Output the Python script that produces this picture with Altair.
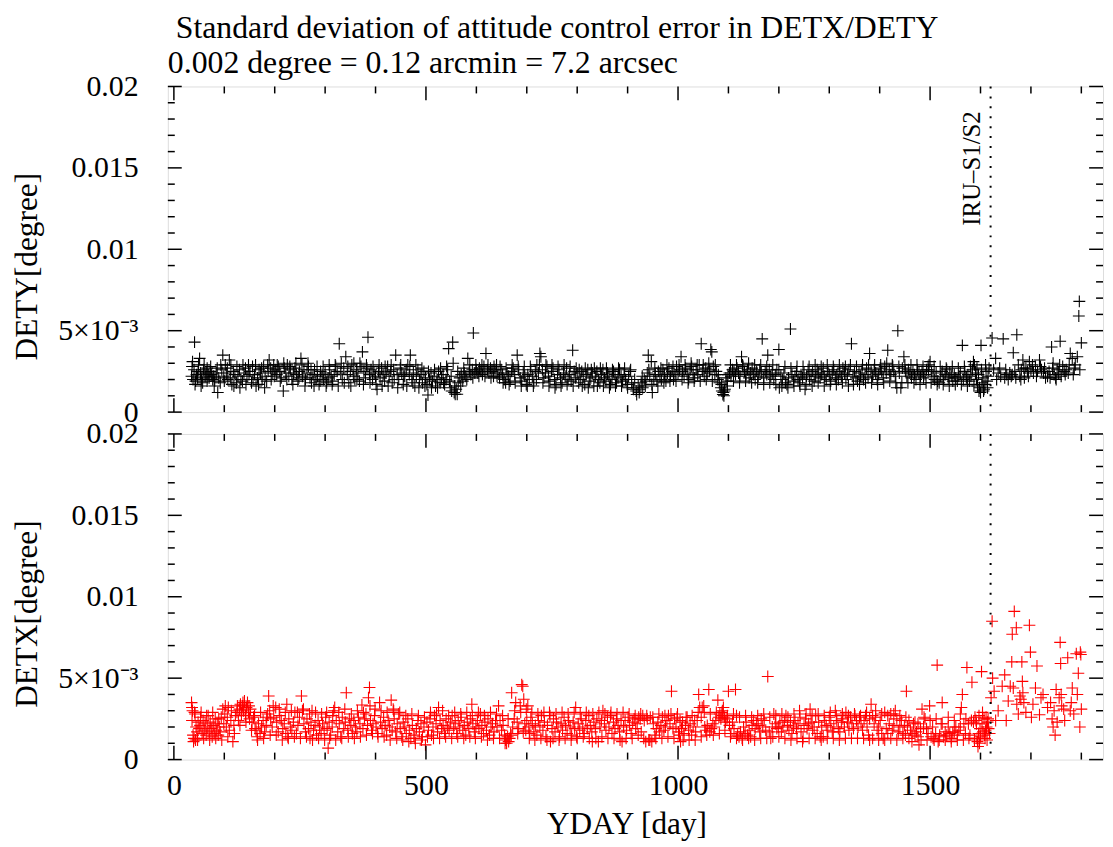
import altair as alt
import pandas as pd

# ---------------- data (values of the series in units of 1e-3 degree) ----------------
DETY_POINTS = [
    (35,2.2),(37,3.1),(38,2.0),(40,2.6),(41,4.3),(43,1.9),(45,2.3),(47,2.1),(49,2.9),(51,3.3),(53,2.4),(55,2.0),(57,1.8),(59,2.6),(62,2.2),(64,2.4),(66,2.7),(68,2.3),(70,2.1),(72,2.5),(75,2.3),(77,2.0),(79,2.2),(81,1.9),(84,2.4),(87,1.2),(89,2.1),(92,1.8),(95,2.6),(97,3.5),(99,2.2),
    (102,2.9),(104,2.4),(107,2.0),(110,3.2),(112,2.1),(115,1.7),(118,2.5),(121,2.3),(124,1.8),(127,2.2),(130,2.6),(133,2.0),(136,1.9),(139,2.4),(142,2.7),(145,2.2),(148,2.9),(151,2.5),(154,1.8),(157,2.0),(160,2.3),(163,1.6),(166,2.1),(169,2.6),(172,2.4),(175,2.0),(178,2.8),(181,2.2),(184,1.9),(187,2.5),(189,3.2),(192,2.7),(195,2.4),(198,2.9),
    (201,2.6),(204,2.3),(207,2.8),(210,2.5),(213,2.1),(217,1.3),(219,2.7),(222,2.4),(225,2.9),(228,2.2),(231,2.6),(234,2.0),(237,2.4),(240,2.7),(243,2.3),(246,1.9),(249,2.5),(252,3.3),(255,2.2),(258,2.6),(261,2.0),(264,2.4),(267,2.8),(270,2.1),(273,1.8),(276,2.3),(279,2.6),(282,2.0),(285,2.2),(288,1.7),(291,2.5),(294,2.3),(297,2.0),
    (300,2.4),(303,1.8),(306,2.1),(309,2.6),(312,2.2),(315,1.9),(318,2.3),(321,2.8),(324,2.5),(328,4.2),(331,2.4),(334,2.0),(337,2.7),(341,3.4),(344,2.3),(347,1.8),(350,2.5),(353,2.9),(356,2.2),(359,2.0),(362,2.6),(365,2.4),(368,1.9),(371,2.8),(374,3.7),(377,2.5),(380,2.1),(383,2.7),(385,4.6),(388,2.3),(391,2.6),(394,2.0),(397,2.4),
    (400,2.2),(403,1.4),(406,2.5),(409,2.1),(412,2.7),(415,2.3),(418,1.9),(421,2.4),(424,2.8),(427,2.2),(430,2.5),(433,1.8),(436,2.6),(440,3.5),(443,2.3),(446,2.0),(449,2.7),(452,2.4),(455,1.7),(458,2.2),(461,2.6),(464,2.9),(467,2.3),(469,3.5),(472,2.0),(475,2.4),(478,1.6),(481,2.2),(484,2.6),(487,2.0),(490,2.3),(493,1.8),(496,2.5),(499,2.1),
    (502,1.7),(504,1.05),(507,2.0),(510,2.4),(513,1.9),(516,2.2),(519,1.6),(522,2.0),(525,2.5),(528,1.8),(531,2.1),(534,2.3),(537,1.7),(540,2.0),(543,2.6),(545,3.9),(548,1.5),(550,2.2),(553,4.3),(554,3.0),(556,1.2),(558,1.1),(560,1.4),(562,1.1),(564,1.8),(567,2.1),(570,2.3),(573,1.9),(576,2.4),(579,2.2),(583,3.3),(586,2.5),(589,2.3),(592,2.6),(594,4.86),(597,2.4),
    (600,2.6),(603,2.4),(606,2.7),(609,2.5),(612,2.3),(615,2.8),(619,3.6),(622,2.6),(625,2.4),(628,2.7),(631,2.5),(634,2.2),(637,2.6),(640,2.9),(643,2.4),(646,2.1),(649,2.6),(652,2.3),(655,2.0),(658,1.8),(661,2.4),(664,2.2),(667,1.9),(670,2.5),(673,2.7),(676,2.3),(681,3.5),(684,2.6),(687,2.1),(690,1.9),(693,2.4),(696,2.2),(699,1.7),
    (702,2.3),(705,2.0),(708,2.6),(711,2.2),(714,1.8),(717,2.5),(720,2.9),(723,2.4),(726,3.6),(728,3.4),(731,2.6),(734,2.1),(737,2.4),(740,2.8),(743,2.2),(746,1.9),(749,2.5),(752,2.7),(755,2.0),(758,1.7),(761,2.3),(764,2.6),(767,2.1),(770,1.8),(773,2.4),(776,2.2),(779,2.7),(782,2.0),(785,2.3),(788,1.9),(791,3.8),(794,2.5),(797,2.1),
    (800,2.4),(803,1.8),(806,2.0),(809,2.5),(812,2.2),(815,1.7),(818,2.3),(821,2.6),(824,1.9),(827,2.1),(830,2.4),(833,1.6),(836,2.2),(839,2.5),(842,2.0),(845,1.8),(848,2.3),(851,2.6),(854,2.1),(857,1.9),(860,2.4),(863,2.2),(866,1.7),(869,2.0),(872,2.5),(875,2.3),(878,1.8),(881,2.1),(884,2.6),(887,2.2),(890,1.9),(893,2.3),(896,2.0),(899,1.7),(902,2.2),(905,2.5),(908,1.8),(911,1.5),(914,2.0),(918,1.08),
    (921,1.6),(924,1.4),(927,1.8),(930,1.5),(933,2.0),(936,1.9),(939,2.4),(941,3.5),(944,2.2),(947,3.1),(949,1.2),(952,2.0),(955,2.3),(958,1.9),(961,2.5),(964,2.2),(967,2.0),(970,2.6),(973,2.3),(976,1.9),(979,2.4),(982,2.7),(985,2.2),(988,2.5),(991,2.0),(994,2.3),(997,2.8),
    (1000,2.4),(1003,2.6),(1006,3.4),(1009,2.5),(1012,2.2),(1015,2.7),(1018,2.3),(1021,2.0),(1024,2.6),(1027,2.8),(1030,2.4),(1033,2.1),(1036,2.6),(1039,2.3),(1042,2.9),(1046,4.2),(1049,2.5),(1052,2.2),(1055,2.7),(1058,2.4),(1061,3.0),(1063,2.6),(1065,3.84),(1067,3.7),(1070,2.8),(1073,2.3),(1076,2.5),(1079,2.0),(1082,1.8),(1085,1.5),(1087,1.3),(1089,1.08),(1090,1.2),(1091,1.0),(1093,1.4),(1095,2.1),(1097,1.9),(1099,2.3),
    (1102,2.4),(1105,2.2),(1108,2.6),(1111,2.5),(1114,2.3),(1117,2.7),(1120,2.4),(1123,2.2),(1126,3.4),(1129,2.8),(1132,2.5),(1135,2.3),(1138,2.6),(1141,2.1),(1144,2.4),(1147,2.7),(1150,2.3),(1153,2.0),(1156,2.5),(1159,2.2),(1162,2.6),(1165,2.4),(1167,4.5),(1170,2.1),(1173,2.5),(1176,2.3),(1178,3.5),(1181,2.6),(1184,2.2),(1187,2.4),(1190,2.0),(1193,2.3),(1196,2.6),(1200,3.84),(1201,1.5),(1204,2.2),(1207,2.0),(1210,2.4),(1213,1.8),(1216,1.7),(1219,2.1),(1223,5.1),(1226,2.3),(1229,1.9),(1232,2.2),(1235,2.5),(1238,2.0),(1241,1.8),(1244,2.3),(1247,2.1),(1250,2.4),
    (1252,1.4),(1255,2.2),(1258,2.6),(1261,2.0),(1264,2.3),(1267,2.5),(1270,1.9),(1273,2.2),(1276,2.6),(1279,2.4),(1282,2.1),(1285,2.3),(1288,2.7),(1291,2.2),(1294,2.0),(1297,2.5),(1300,2.3),(1303,1.9),(1306,2.4),(1309,2.6),(1312,2.1),(1315,2.3),(1318,2.0),(1321,2.5),(1324,2.2),(1327,2.7),(1330,2.4),(1333,2.0),(1336,2.3),(1339,2.6),(1344,4.2),(1347,2.2),(1350,2.5),(1353,2.1),(1356,1.9),(1359,2.4),(1362,2.2),(1365,2.6),(1368,2.0),(1371,2.3),(1374,2.7),(1377,2.1),(1380,3.6),(1383,2.5),(1386,2.2),(1389,2.6),(1392,2.4),(1395,2.0),(1398,2.3),(1401,2.7),(1404,2.5),(1407,2.1),(1410,2.8),(1413,2.4),(1416,3.8),(1419,2.6),(1422,2.3),(1425,2.9),(1428,2.5),(1431,2.2),(1434,1.5),(1436,5.0),(1439,2.4),(1442,1.5),(1445,2.7),(1448,3.4),(1451,2.5),
    (1454,2.2),(1457,2.6),(1460,2.4),(1463,2.1),(1466,2.5),(1469,2.3),(1472,2.0),(1475,2.6),(1478,2.4),(1481,2.2),(1484,2.5),(1487,2.1),(1490,2.3),(1493,2.6),(1496,2.8),(1498,2.9),(1500,3.1),(1503,2.5),(1506,2.2),(1509,2.0),(1512,2.4),(1515,1.9),(1518,1.8),(1521,2.2),(1524,2.5),(1527,2.0),(1530,2.3),(1533,2.6),(1536,2.1),(1539,2.4),(1542,2.2),(1545,1.9),(1548,2.3),(1551,2.1),(1554,1.9),(1557,2.2),(1560,2.4),(1564,4.1),(1566,2.0),(1569,2.5),(1572,2.1),(1575,2.3),(1578,1.9),(1581,2.2),(1584,2.6),(1586,3.1),(1588,2.9),(1590,2.4),(1592,2.0),(1594,1.6),(1596,2.3),(1598,1.5),(1600,1.2),(1601,4.1),(1603,1.8),(1605,2.1),(1607,1.4),(1609,1.7),(1611,2.5),(1613,1.9),(1615,2.2),
    (1623,4.55),(1626,2.6),(1630,3.3),(1635,2.4),(1640,2.2),(1645,4.5),(1648,2.1),(1652,2.3),(1655,2.0),(1658,2.4),(1661,2.2),(1665,3.65),(1668,2.5),(1672,4.75),(1675,2.9),(1678,2.2),(1681,2.6),(1684,3.2),(1687,2.1),(1690,2.7),(1693,2.5),(1697,3.1),(1700,2.6),(1705,2.4),(1709,2.8),(1713,2.5),(1717,3.2),(1721,2.6),(1725,2.4),(1729,2.1),(1733,2.2),(1736,2.5),(1741,4.0),(1743,2.7),(1746,2.3),(1749,2.1),(1752,2.6),(1755,2.4),(1758,4.35),(1760,2.2),(1763,2.8),(1766,2.5),(1770,2.6),(1774,2.4),(1778,3.6),(1782,3.3),(1784,2.3),(1788,2.9),(1792,3.4),(1795,5.9),(1796,6.8),(1797,2.6),(1800,4.25),
]

DETY_EXTRA = [
    (36,2.8),(42,1.7),(48,2.5),(54,1.6),(60,2.9),(66,1.9),(73,2.8),(80,1.6),(86,2.7),(93,2.9),(100,1.9),(106,2.7),(113,2.9),(119,1.6),(125,2.8),(131,1.5),(137,2.9),(143,1.7),(149,2.3),(156,2.8),(162,2.9),(168,1.7),(174,2.7),(180,1.5),(186,2.9),(193,2.0),(199,2.2),
    (205,2.9),(211,1.9),(218,3.0),(224,2.0),(230,2.8),(236,1.7),(242,3.0),(248,2.1),(254,2.9),(260,1.6),(266,3.0),(272,2.6),(278,1.6),(284,2.8),(290,1.9),(296,2.8),(302,1.6),(308,2.9),(314,1.7),(320,2.9),(326,1.6),(332,3.0),(338,1.8),(345,2.8),(351,1.6),(357,3.0),(363,2.0),(369,3.0),(376,1.7),(382,2.9),(389,1.8),(395,2.8),
    (401,1.7),(407,2.9),(413,1.6),(419,2.8),(425,1.6),(431,2.9),(437,2.0),(444,1.5),(450,2.9),(456,2.2),(462,1.6),(468,2.8),(474,1.8),(480,2.9),(486,1.5),(492,2.7),(498,1.6),(505,2.5),(511,1.5),(517,2.6),(523,1.5),(529,2.7),(535,1.8),(541,2.8),(547,1.9),(551,1.3),(557,1.6),(563,2.5),(569,1.6),(575,2.7),(581,2.0),(587,2.9),(593,2.1),(599,2.9),
    (605,2.2),(611,2.9),(617,2.2),(623,2.9),(629,2.1),(635,2.8),(641,2.2),(647,2.8),(653,1.8),(659,2.7),(665,1.7),(671,2.9),(677,1.8),(683,2.8),(689,1.6),(695,2.8),(701,1.6),(707,2.8),(713,1.6),(719,2.0),(725,2.9),(732,1.8),(738,2.9),(744,1.6),(750,2.9),(756,1.5),(762,2.8),(768,1.6),(774,2.9),(780,1.7),(786,2.8),(792,1.6),(798,2.7),
    (804,2.6),(810,1.6),(816,2.7),(822,1.5),(828,2.6),(834,2.7),(840,1.6),(846,2.7),(852,1.6),(858,2.7),(864,1.5),(870,2.6),(876,1.6),(882,2.7),(888,1.6),(894,2.7),(900,1.5),(906,2.6),(912,1.4),(917,1.3),(923,1.2),(929,2.2),(935,1.6),(942,2.6),(948,1.7),(954,2.7),(960,1.6),(966,2.7),(972,1.8),(978,2.9),(984,1.9),(990,2.8),(996,1.9),
    (1002,2.9),(1008,2.0),(1014,2.9),(1020,1.8),(1026,3.0),(1032,1.9),(1038,2.9),(1044,1.9),(1050,2.9),(1056,2.0),(1062,2.5),(1068,1.9),(1074,2.9),(1080,2.3),(1086,1.7),(1092,1.3),(1098,1.6),(1104,2.9),(1110,1.9),(1116,2.9),(1122,1.8),(1128,2.9),(1134,1.9),(1140,3.0),(1146,1.8),(1152,2.9),(1158,1.8),(1164,2.9),(1170,1.7),(1176,2.8),(1182,1.8),(1188,2.9),(1194,1.7),
    (1200,2.6),(1206,1.6),(1212,2.8),(1218,1.5),(1224,2.7),(1230,1.6),(1236,2.8),(1242,1.6),(1248,2.8),(1254,1.7),(1260,2.8),(1266,1.6),(1272,2.9),(1278,1.8),(1284,2.8),(1290,1.6),(1296,2.9),(1302,1.7),(1308,2.8),(1314,1.7),(1320,2.9),(1326,1.8),(1332,2.8),(1338,1.6),(1342,2.9),(1348,1.7),(1354,2.8),(1360,1.7),(1366,2.9),(1372,1.8),(1378,2.9),(1384,1.8),(1390,2.9),(1396,1.7),
    (1402,2.9),(1408,1.8),(1414,3.0),(1420,1.9),(1426,2.8),(1432,1.8),(1438,2.8),(1444,1.8),(1450,2.9),(1456,1.8),(1462,2.9),(1468,1.8),(1474,2.9),(1480,1.7),(1486,2.8),(1492,1.8),(1497,2.6),(1502,1.8),(1508,2.8),(1514,1.7),(1520,2.8),(1526,1.7),(1532,2.7),(1538,1.6),(1544,2.8),(1550,1.7),(1556,2.7),(1562,1.7),(1568,2.8),(1574,1.6),(1580,2.8),(1587,1.7),(1593,2.7),(1597,1.3),(1602,2.6),(1606,1.3),(1610,2.9),(1614,1.5),(1617,2.7),
    (1632,2.0),(1638,2.7),(1650,2.6),(1663,2.3),(1670,2.1),(1680,2.0),(1686,2.7),(1695,2.2),(1703,2.9),(1711,2.2),(1719,2.8),(1727,2.7),(1738,2.1),(1744,3.0),(1750,2.0),(1757,2.9),(1768,2.3),(1776,2.9),(1786,2.7),
]

DETX_POINTS = [
    (35,3.5),(36,3.2),(37,3.0),(38,1.5),(39,1.1),(40,1.3),(41,2.9),(43,1.2),(44,2.0),(46,1.7),(48,2.3),(50,1.9),(52,2.1),(54,2.9),(56,1.6),(58,2.4),(60,1.8),(62,2.2),(64,1.5),(66,2.0),(68,2.7),(70,1.7),(72,2.3),(74,1.9),(76,1.4),(78,2.1),(80,1.6),(82,2.5),(84,1.8),(86,2.2),(88,1.5),(90,2.0),(92,1.7),(94,2.6),(97,3.1),(99,2.2),
    (102,3.3),(104,2.0),(106,2.6),(108,3.2),(110,1.8),(113,2.4),(117,1.1),(119,2.1),(122,2.7),(125,2.9),(128,2.4),(130,3.1),(132,3.4),(134,2.8),(136,3.3),(138,3.0),(140,3.6),(142,2.7),(144,3.2),(146,3.5),(148,2.9),(150,2.5),(152,3.1),(155,2.3),(158,2.6),(161,1.9),(163,1.8),(165,1.4),(168,2.2),(171,1.6),(174,2.0),(177,2.4),(180,1.7),(183,2.1),(186,2.8),(188,3.9),(190,3.0),(192,2.5),(195,2.0),(198,2.6),
    (202,3.2),(204,2.3),(207,1.7),(210,2.7),(213,2.4),(216,1.9),(219,2.2),(222,1.6),(224,3.4),(226,1.4),(228,2.5),(231,2.0),(234,1.8),(237,2.3),(240,2.9),(243,1.6),(246,2.1),(249,2.6),(253,3.9),(255,3.0),(258,2.2),(261,1.7),(264,2.5),(267,1.9),(270,1.3),(272,2.3),(274,3.0),(277,1.8),(280,2.1),(283,1.5),(286,2.4),(289,2.0),(292,1.6),(295,2.2),(298,1.8),
    (301,2.6),(304,1.9),(306,0.7),(308,2.3),(311,1.5),(314,2.0),(317,3.0),(319,3.2),(322,2.4),(325,1.7),(328,2.2),(331,1.4),(334,2.6),(337,1.9),(340,2.3),(342,4.1),(345,1.8),(348,2.5),(351,2.1),(354,1.6),(357,2.4),(360,2.0),(363,1.7),(366,2.6),(369,2.2),(373,3.35),(375,1.9),(378,2.5),(381,2.8),(384,2.1),(386,3.8),(388,4.43),(390,2.4),(392,1.8),(395,2.2),(398,2.7),
    (401,2.0),(404,1.6),(408,3.5),(410,2.3),(413,1.9),(416,2.6),(419,2.1),(422,1.5),(425,2.4),(428,2.0),(431,3.65),(433,1.8),(435,3.1),(437,2.5),(440,1.7),(443,2.2),(446,2.8),(449,1.9),(452,1.4),(455,2.3),(458,2.0),(461,1.6),(464,2.5),(467,1.8),(470,1.3),(473,2.1),(476,1.5),(479,1.0),(481,1.9),(484,2.4),(487,1.7),(490,2.2),(493,1.4),(496,2.0),(499,0.9),
    (502,2.3),(505,1.8),(508,2.5),(511,1.5),(514,2.0),(517,2.7),(520,2.2),(523,1.7),(525,3.2),(528,2.4),(531,1.9),(534,2.1),(537,1.6),(540,2.5),(543,2.0),(546,1.8),(549,2.3),(552,2.7),(555,1.9),(558,2.2),(561,1.6),(564,2.4),(567,2.0),(570,2.6),(573,1.8),(576,2.1),(579,1.5),(582,2.3),(585,1.9),(588,2.5),(591,3.4),(593,2.2),(596,1.7),(599,2.0),
    (602,2.4),(605,1.9),(608,2.8),(611,2.1),(614,1.6),(617,2.3),(620,1.8),(623,2.5),(626,1.5),(629,2.0),(632,2.2),(635,1.7),(638,2.4),(641,2.0),(644,3.3),(647,2.4),(650,1.8),(653,2.1),(656,1.5),(658,1.2),(660,1.0),(662,1.4),(664,1.1),(666,1.3),(668,1.6),(670,4.1),(672,2.0),(675,2.5),(678,3.5),(681,2.3),(684,1.9),(687,3.3),(690,4.6),(692,4.5),(694,3.7),(696,2.2),(698,1.8),
    (700,2.4),(702,3.3),(704,2.0),(706,1.6),(708,2.6),(711,2.2),(714,1.7),(717,2.1),(720,1.5),(723,2.4),(726,2.0),(729,2.7),(732,1.8),(735,2.3),(738,1.4),(741,2.1),(745,2.9),(747,1.1),(750,1.9),(753,2.5),(756,1.7),(759,2.3),(762,2.0),(765,1.4),(768,2.2),(771,1.8),(774,2.6),(777,2.1),(780,1.6),(783,2.4),(786,2.0),(789,1.5),(792,2.3),(795,1.9),(797,3.2),(799,1.4),
    (802,2.2),(805,1.8),(808,2.5),(811,2.0),(814,1.6),(817,2.4),(820,1.9),(823,2.7),(826,2.1),(829,1.7),(830,1.1),(833,2.3),(836,1.9),(839,2.5),(842,1.1),(845,2.0),(848,2.4),(851,3.0),(854,2.2),(857,1.8),(860,2.6),(863,2.0),(866,2.7),(869,1.6),(872,2.3),(875,1.9),(878,2.5),(881,2.1),(884,1.7),(887,2.4),(889,1.1),(892,2.0),(895,2.4),(898,1.8),(901,2.6),(904,2.1),(907,1.6),(910,2.3),(913,2.5),(916,1.9),(919,2.2),
    (922,2.6),(925,2.5),(927,1.7),(930,2.7),(933,2.4),(936,1.1),(939,2.5),(942,1.2),(945,2.6),(948,1.1),(951,2.2),(954,1.5),(957,1.9),(960,2.3),(963,1.7),(966,2.1),(969,2.6),(972,1.8),(975,2.0),(978,2.4),(981,2.7),(984,2.2),(987,4.2),(990,1.9),(993,2.5),(996,2.0),(999,2.8),
    (1001,1.7),(1003,1.5),(1005,1.1),(1007,1.9),(1009,2.3),(1012,1.6),(1015,2.1),(1018,2.6),(1021,1.8),(1024,2.2),(1027,1.5),(1030,2.0),(1033,2.4),(1035,1.7),(1038,2.4),(1041,4.0),(1043,3.2),(1046,2.6),(1048,3.2),(1051,3.3),(1053,2.0),(1055,1.8),(1058,2.1),(1061,4.3),(1063,1.7),(1066,1.9),(1069,2.2),(1072,2.0),(1075,2.4),(1079,3.65),(1081,2.6),(1083,2.8),(1085,2.5),(1087,2.9),(1089,2.7),(1090,3.2),(1092,2.6),(1094,2.3),(1097,2.5),(1100,4.2),
    (1102,2.1),(1105,1.6),(1108,2.3),(1111,1.9),(1114,4.3),(1116,2.7),(1118,1.5),(1121,1.4),(1124,1.7),(1127,1.3),(1130,2.0),(1133,1.6),(1135,2.3),(1138,1.5),(1141,1.8),(1144,1.4),(1147,2.1),(1150,2.4),(1153,1.9),(1156,2.2),(1159,2.1),(1162,1.7),(1165,2.5),(1168,2.0),(1171,2.4),(1174,1.8),(1178,5.1),(1181,1.7),(1184,1.3),(1187,2.0),(1190,2.8),(1193,2.2),(1196,1.9),(1199,2.0),(1202,2.3),(1205,1.7),(1208,2.0),(1211,2.4),(1214,2.7),(1217,2.1),(1220,1.8),(1223,2.3),(1226,1.6),(1229,2.0),(1232,2.4),(1235,1.9),(1238,2.2),(1241,3.0),(1244,1.7),(1247,1.1),(1250,2.1),
    (1253,2.5),(1256,1.9),(1259,2.2),(1262,3.1),(1264,2.3),(1267,1.8),(1270,2.0),(1273,2.7),(1276,1.6),(1279,2.3),(1282,1.4),(1285,2.0),(1288,1.4),(1291,2.4),(1294,2.1),(1297,1.8),(1300,2.6),(1303,2.2),(1306,1.7),(1309,2.0),(1312,3.0),(1315,2.4),(1318,1.9),(1321,1.7),(1324,2.3),(1327,2.5),(1330,2.0),(1333,2.9),(1336,2.3),(1339,1.8),(1342,2.6),(1345,2.2),(1348,1.9),(1351,2.7),(1354,2.4),(1357,2.0),(1360,2.6),(1363,2.2),(1366,1.8),(1369,2.4),(1372,2.7),(1375,2.0),(1378,1.5),(1380,1.2),(1383,3.4),(1386,2.7),(1389,2.2),(1392,3.0),(1395,1.8),(1398,2.0),(1401,2.4),(1404,1.6),(1407,1.3),(1410,2.9),(1413,1.9),(1416,1.6),(1419,2.2),(1422,2.8),(1425,1.8),(1428,2.1),(1431,3.0),(1434,2.5),(1437,1.7),(1440,2.0),(1443,2.4),(1446,1.6),(1449,2.1),(1451,1.5),(1453,4.2),
    (1455,2.0),(1458,1.3),(1461,1.8),(1464,1.6),(1467,2.2),(1470,1.5),(1473,1.7),(1476,1.4),(1478,0.9),(1481,1.9),(1484,3.1),(1487,2.0),(1490,2.5),(1493,1.9),(1496,1.6),(1499,3.3),(1502,1.4),(1505,2.0),(1508,1.2),(1511,1.6),(1514,5.8),(1516,1.1),(1519,1.5),(1522,2.2),(1524,3.5),(1527,1.4),(1530,1.7),(1533,1.5),(1536,2.0),(1539,1.6),(1542,1.3),(1545,1.65),(1548,1.7),(1551,2.0),(1554,1.5),(1557,1.8),(1560,2.8),(1562,3.2),(1564,4.0),(1567,2.2),(1570,1.6),(1573,5.65),(1576,2.2),(1579,1.5),(1583,4.75),(1586,2.3),(1589,2.6),(1591,2.4),(1593,1.3),(1594,1.1),(1595,0.8),(1596,1.6),(1597,2.7),(1599,1.9),(1600,1.4),(1602,5.4),(1603,2.2),(1605,1.7),(1607,2.5),(1609,1.3),(1610,1.8),(1612,2.0),(1614,2.3),(1616,1.9),
    (1621,3.8),(1623,8.5),(1624,5.0),(1630,2.4),(1643,4.5),(1651,2.4),(1659,4.5),(1662,6.0),(1663,7.7),(1667,9.1),(1671,8.1),(1672,3.4),(1675,2.8),(1678,3.9),(1682,6.0),(1683,4.8),(1684,4.1),(1686,3.5),(1697,8.25),(1699,6.6),(1701,2.6),(1709,4.4),(1712,5.75),(1717,2.75),(1724,4.0),(1739,3.5),(1742,2.5),(1744,2.0),(1746,3.0),(1748,1.5),(1752,2.3),(1756,3.8),(1758,7.2),(1759,5.9),(1760,4.0),(1761,3.3),(1767,2.4),(1773,6.25),(1778,3.0),(1782,4.4),(1785,2.8),(1790,6.5),(1794,5.3),(1797,2.0),(1798,6.6),(1799,6.45),(1800,3.1),
]

DETX_EXTRA = [
    (36,2.4),(42,2.8),(47,1.2),(53,2.6),(59,1.3),(65,2.7),(71,1.2),(77,2.9),(83,1.3),(89,2.5),(95,1.2),(101,2.8),(107,1.4),(114,3.0),(120,1.6),(126,3.3),(131,2.1),(137,3.5),(143,2.3),(149,3.3),(154,1.8),(160,2.7),(166,1.2),(172,2.9),(178,1.3),(184,2.6),(191,1.5),(197,3.3),
    (203,1.5),(209,3.1),(215,1.2),(221,2.9),(227,1.3),(233,3.0),(239,1.4),(245,2.9),(251,1.3),(257,3.1),(263,1.4),(269,2.8),(275,1.2),(281,2.9),(287,1.3),(293,2.8),(299,1.2),(303,2.9),(309,1.3),(315,2.7),(321,1.2),(327,2.9),(333,1.3),(339,3.1),(346,1.4),(352,2.8),(358,1.3),(364,3.0),(370,1.4),(376,2.9),(382,1.5),(389,3.3),(394,1.6),(399,3.1),
    (405,1.4),(411,3.0),(417,1.4),(423,2.9),(429,1.2),(436,3.0),(442,1.3),(448,2.9),(454,1.2),(460,2.7),(466,1.1),(472,2.8),(478,1.3),(485,2.7),(491,1.2),(497,2.6),(503,1.4),(509,2.9),(515,1.3),(521,2.8),(527,1.3),(533,3.0),(539,1.4),(545,2.7),(551,1.3),(557,2.9),(563,1.4),(569,2.8),(575,1.3),(581,2.9),(587,1.4),(592,2.7),(598,1.3),
    (604,2.9),(610,1.4),(616,2.7),(622,1.2),(628,2.9),(634,1.3),(640,2.8),(646,1.3),(652,2.7),(657,1.0),(663,2.5),(669,1.5),(676,3.0),(682,1.6),(688,2.9),(693,1.7),(699,3.1),(705,1.3),(710,2.9),(716,1.2),(722,2.8),(728,1.3),(734,2.9),(740,1.2),(746,2.7),(752,1.3),(758,2.8),(764,1.2),(770,2.9),(776,1.3),(782,2.8),(788,1.2),(794,2.9),
    (800,1.3),(806,2.8),(812,1.4),(818,2.9),(824,1.3),(831,2.8),(837,1.3),(843,2.9),(849,1.4),(855,2.8),(861,1.3),(867,2.9),(873,1.3),(879,2.8),(885,1.2),(891,2.9),(897,1.3),(903,2.8),(909,1.3),(915,2.7),(921,1.5),(926,2.8),(932,1.3),(938,2.7),(944,1.2),(950,2.6),(956,1.3),(962,2.8),(968,1.3),(974,2.7),(980,1.4),(986,2.8),(992,1.3),(998,2.6),
    (1004,2.4),(1010,1.2),(1016,2.6),(1022,1.2),(1028,2.7),(1034,1.2),(1040,2.9),(1046,1.4),(1052,2.9),(1057,1.5),(1064,2.8),(1070,1.5),(1076,2.9),(1082,1.6),(1088,3.0),(1093,1.8),(1098,2.7),(1104,1.4),(1110,2.8),(1116,1.3),(1122,2.6),(1128,1.2),(1134,2.7),(1140,1.3),(1146,2.6),(1152,1.2),(1158,2.7),(1164,1.3),(1170,2.8),(1176,1.3),(1182,2.6),(1188,1.4),(1194,2.7),
    (1200,1.4),(1206,2.8),(1212,1.3),(1218,2.6),(1224,1.2),(1230,2.8),(1236,1.3),(1242,2.6),(1248,1.3),(1254,2.8),(1260,1.3),(1266,2.7),(1272,1.3),(1278,2.8),(1284,1.2),(1290,2.7),(1296,1.3),(1302,2.9),(1308,1.3),(1314,2.7),(1320,1.2),(1326,2.8),(1332,1.3),(1338,2.7),(1344,1.3),(1350,2.8),(1356,1.3),(1362,2.7),(1368,1.3),(1374,2.9),(1380,2.5),(1386,1.3),(1392,2.6),(1398,1.2),
    (1404,2.8),(1410,1.2),(1416,2.7),(1422,1.3),(1428,2.8),(1434,1.2),(1440,2.7),(1446,1.3),(1452,2.6),(1458,2.4),(1464,1.1),(1470,2.3),(1476,2.2),(1482,1.2),(1488,2.6),(1494,1.2),(1500,2.4),(1506,1.3),(1512,2.5),(1518,1.2),(1524,2.2),(1530,1.2),(1536,2.6),(1542,1.1),(1548,2.4),(1554,1.2),(1560,2.0),(1566,1.2),(1571,2.5),(1577,1.3),(1582,2.4),(1588,1.2),(1592,2.2),(1598,1.0),
    (1604,2.9),(1608,1.5),(1611,2.6),(1613,1.2),(1615,2.5),(1618,1.6),
    (1627,4.2),(1635,3.0),(1648,5.2),(1655,3.6),(1665,4.4),(1680,3.7),(1690,2.9),(1704,3.4),(1720,3.8),(1733,3.2),(1750,4.3),(1765,3.1),(1780,3.5),(1792,4.0),
]

IRU_DAY = [1620]
IRU_TEXT = "IRU\u2013S1/S2"
X_MAJOR = [0, 500, 1000, 1500]
X_MINOR = [100, 200, 300, 400, 600, 700, 800, 900, 1100, 1200, 1300, 1400, 1600, 1700, 1800]
Y_MAJOR = [0, 0.005, 0.01, 0.015, 0.02]
Y_MINOR = [0.001, 0.002, 0.003, 0.004, 0.006, 0.007, 0.008, 0.009, 0.011, 0.012,
           0.013, 0.014, 0.016, 0.017, 0.018, 0.019]
X_DOMAIN = [-12, 1843]
Y_DOMAIN = [0, 0.02]
TITLE_1 = "\u200b\u00a0Standard deviation of attitude control error in DETX/DETY"
TITLE_2 = "0.002 degree = 0.12 arcmin = 7.2 arcsec"

# ---------------- styling ----------------
FONT = "Liberation Serif"
W, H = 942, 328
MAJ, MIN = 14, 7
PLUS = "M-1,0L1,0M0,-1L0,1"
TICK_FS = 30
TITLE_FS = 31.5

LABEL_EXPR = ("abs(datum.value - 0.005) < 1e-9 ? '5\u00d710\u207b\u00b3' : "
              "format(datum.value, '.3~f')")


def panel(points, extra, color, ytitle, show_x, label=False, title=None):
    df = pd.DataFrame(points + extra, columns=["day", "val"])
    df["val"] = df["val"] / 1000.0

    xs = alt.Scale(domain=X_DOMAIN, nice=False, zero=False)
    ys = alt.Scale(domain=Y_DOMAIN, nice=False, zero=False)
    if show_x:
        xax = alt.Axis(values=X_MAJOR, format="d", ticks=False, domain=False, grid=False,
                       labelFontSize=TICK_FS, labelFont=FONT, labelColor="black",
                       labelBaseline="alphabetic", labelPadding=35,
                       labelFlush=False, labelOverlap=False,
                       title="YDAY [day]", titleFontSize=TITLE_FS, titleFont=FONT,
                       titleFontWeight="normal", titleColor="black",
                       titleBaseline="alphabetic", titleAlign="center",
                       titleX=462, titleY=74)
    else:
        xax = None
    yax = alt.Axis(values=Y_MAJOR, labelExpr=LABEL_EXPR, ticks=False, domain=False,
                   grid=False, labelFontSize=TICK_FS, labelFont=FONT, labelColor="black",
                   labelPadding=30, labelOverlap=False, labelFlush=False,
                   title=ytitle, titleFontSize=TITLE_FS, titleFont=FONT,
                   titleFontWeight="normal", titleColor="black",
                   titleAngle=270, titleAlign="center", titleBaseline="alphabetic",
                   titleX=-132, titleY=181)

    def X():
        return alt.X("day:Q", scale=xs, axis=xax)

    def Y():
        return alt.Y("val:Q", scale=ys, axis=yax)

    pts = alt.Chart(df).mark_point(shape=PLUS, filled=False, size=144, strokeWidth=1.1,
                                   color=color, opacity=1).encode(x=X(), y=Y())

    xmaj = alt.Chart(pd.DataFrame({"day": X_MAJOR}))
    xmin = alt.Chart(pd.DataFrame({"day": X_MINOR}))
    ymaj = alt.Chart(pd.DataFrame({"val": Y_MAJOR}))
    ymin = alt.Chart(pd.DataFrame({"val": Y_MINOR}))
    rk = dict(color="black", strokeWidth=1.5)
    ticks = [
        xmaj.mark_rule(**rk).encode(x=X(), y=alt.value(0), y2=alt.value(MAJ)),
        xmaj.mark_rule(**rk).encode(x=X(), y=alt.value(H), y2=alt.value(H - MAJ)),
        xmin.mark_rule(**rk).encode(x=X(), y=alt.value(0), y2=alt.value(MIN)),
        xmin.mark_rule(**rk).encode(x=X(), y=alt.value(H), y2=alt.value(H - MIN)),
        ymaj.mark_rule(**rk).encode(y=Y(), x=alt.value(0), x2=alt.value(MAJ)),
        ymaj.mark_rule(**rk).encode(y=Y(), x=alt.value(W), x2=alt.value(W - MAJ)),
        ymin.mark_rule(**rk).encode(y=Y(), x=alt.value(0), x2=alt.value(MIN)),
        ymin.mark_rule(**rk).encode(y=Y(), x=alt.value(W), x2=alt.value(W - MIN)),
    ]

    iru = alt.Chart(pd.DataFrame({"day": IRU_DAY}))
    vline = iru.mark_rule(color="black", strokeWidth=2, strokeDash=[2, 8]).encode(x=X())

    layers = [pts] + ticks + [vline]
    if label:
        txt = iru.mark_text(text=IRU_TEXT, angle=270, align="right", baseline="alphabetic",
                            dy=-11, fontSize=25, font=FONT, color="black").encode(
            x=X(), y=alt.value(25))
        layers.append(txt)

    props = dict(width=W, height=H)
    if title is not None:
        props["title"] = title
    return alt.layer(*layers).properties(**props)


title = alt.TitleParams(text=TITLE_1, subtitle=TITLE_2, anchor="start", frame="group",
                        font=FONT, fontSize=32, fontWeight="normal", color="black",
                        subtitleFont=FONT, subtitleFontSize=32, subtitleColor="black",
                        subtitlePadding=3, offset=-8)

top = panel(DETY_POINTS, DETY_EXTRA, "#000000", "DETY[degree]", show_x=False, label=True,
            title=title)
bottom = panel(DETX_POINTS, DETX_EXTRA, "#ff0000", "DETX[degree]", show_x=True)

chart = alt.vconcat(top, bottom, spacing=22, bounds="flush").properties(
    padding={"left": 3, "top": 0, "right": 0, "bottom": 0}
).configure_view(stroke="black", strokeWidth=2).configure(font=FONT)

chart.save("out.html", embed_options={"renderer": "svg", "actions": False})
